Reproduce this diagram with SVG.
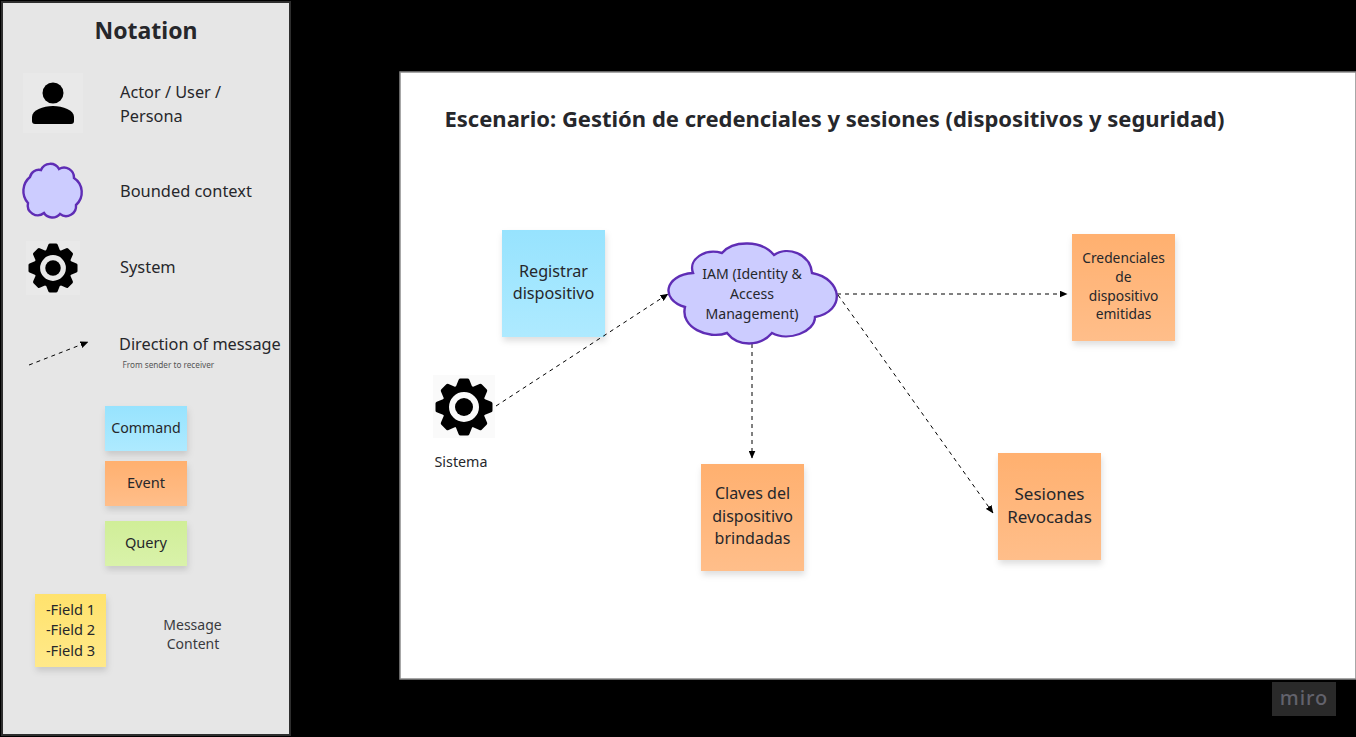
<svg xmlns="http://www.w3.org/2000/svg" width="1356" height="737" viewBox="0 0 1356 737">
<style>
text{font-family:"Noto Sans","Open Sans","Liberation Sans",sans-serif;fill:#26272b;text-anchor:middle}
.l{text-anchor:start}
.c{fill:none;stroke:#000;stroke-width:1;stroke-dasharray:4 4}
.cloud{fill:#ccccff;stroke:#5f2db5;stroke-width:2.4}
.cmd{fill:url(#gb)}.evt{fill:url(#go)}.qry{fill:url(#gg)}.fld{fill:url(#gy)}
.st{filter:url(#sh)}
</style>
<defs>
<linearGradient id="gb" x1="0" y1="0" x2="0" y2="1"><stop offset="0" stop-color="#97e3fe"/><stop offset="1" stop-color="#aeeaff"/></linearGradient>
<linearGradient id="go" x1="0" y1="0" x2="0" y2="1"><stop offset="0" stop-color="#ffb06f"/><stop offset="1" stop-color="#ffbe8a"/></linearGradient>
<linearGradient id="gg" x1="0" y1="0" x2="0" y2="1"><stop offset="0" stop-color="#d0ee98"/><stop offset="1" stop-color="#d9f2aa"/></linearGradient>
<linearGradient id="gy" x1="0" y1="0" x2="0" y2="1"><stop offset="0" stop-color="#ffe26c"/><stop offset="1" stop-color="#ffe98a"/></linearGradient>
<filter id="sh" x="-20%" y="-20%" width="140%" height="140%"><feDropShadow dx="1" dy="4" stdDeviation="3" flood-color="#000" flood-opacity="0.13"/></filter>
<marker id="a" markerWidth="8" markerHeight="7" refX="7.500" refY="3.500" orient="auto" markerUnits="userSpaceOnUse"><path d="M0 0L8 3.500L0 7Z" fill="#000"/></marker>
<path id="tooth" d="M-6.500-19L-3.500-26.500H3.500L6.500-19Z" fill="#000" stroke="#000" stroke-width="4" stroke-linejoin="round"/>
<g id="gear">
<use href="#tooth"/><use href="#tooth" transform="rotate(45)"/><use href="#tooth" transform="rotate(90)"/><use href="#tooth" transform="rotate(135)"/><use href="#tooth" transform="rotate(180)"/><use href="#tooth" transform="rotate(225)"/><use href="#tooth" transform="rotate(270)"/><use href="#tooth" transform="rotate(315)"/>
<circle r="18.500" fill="none" stroke="#000" stroke-width="7"/><circle r="9" fill="#000"/>
</g>
</defs>
<rect width="1356" height="737" fill="#000"/>
<g id="notation-panel">
<rect x="2" y="2" width="288" height="733" fill="#e6e6e6" stroke="#2e2e2e" stroke-width="2"/>
<text x="146" y="39" font-size="23" font-weight="700">Notation</text>
</g>
<g id="legend-actor">
<rect x="23" y="73" width="60" height="60" fill="#e9e9e9"/>
<circle cx="53" cy="93" r="10.500" fill="#000"/>
<path d="M32 121V117C32 110 43 106 53 106S74 110 74 117V121A3 3 0 0 1 71 124H35A3 3 0 0 1 32 121Z" fill="#000"/>
<text class="l" x="120" y="98" font-size="16.300">Actor / User /</text>
<text class="l" x="120" y="122" font-size="16.300">Persona</text>
</g>
<g id="legend-context">
<path class="cloud" d="M41 170A10 10 0 0 1 59 169A10 10 0 0 1 74 178A17 17 0 0 1 76 205A10 10 0 0 1 60 214A10 10 0 0 1 44 213A10 10 0 0 1 28 203A18 18 0 0 1 30 177A9 9 0 0 1 41 170Z"/>
<text class="l" x="120" y="197" font-size="16.400">Bounded context</text>
</g>
<g id="legend-system">
<rect x="26" y="241" width="54" height="54" fill="#e9e9e9"/>
<use href="#gear" transform="translate(53 268) scale(.86)"/>
<text class="l" x="120" y="273" font-size="16.400">System</text>
</g>
<g id="legend-arrow">
<line class="c" x1="29" y1="365" x2="88" y2="342" stroke-dasharray="5 5" marker-end="url(#a)"/>
<text class="l" x="119" y="350" font-size="16.300">Direction of message</text>
<text class="l" x="122.500" y="368" font-size="8.200" style="fill:#555">From sender to receiver</text>
</g>
<g id="legend-command"><rect class="cmd st" x="105" y="406" width="82" height="45"/><text x="146" y="433" font-size="14.200">Command</text></g>
<g id="legend-event"><rect class="evt st" x="105" y="461" width="82" height="45"/><text x="146" y="488" font-size="14.600">Event</text></g>
<g id="legend-query"><rect class="qry st" x="105" y="521" width="82" height="45"/><text x="146" y="548" font-size="14.600">Query</text></g>
<g id="legend-fields"><rect class="fld st" x="35" y="594" width="71" height="73"/>
<text x="70.500" y="615" font-size="14.600">-Field 1</text><text x="70.500" y="635" font-size="14.600">-Field 2</text><text x="70.500" y="656" font-size="14.600">-Field 3</text></g>
<g id="legend-content"><text x="192.500" y="630" font-size="14" style="fill:#3a3a3e">Message</text><text x="193" y="649" font-size="14" style="fill:#3a3a3e">Content</text></g>
<g id="frame">
<rect x="400" y="72" width="956" height="607" fill="#fff" stroke="#8a8a8a" stroke-width="1.500"/>
<text class="l" x="444.500" y="127" font-size="22" font-weight="700">Escenario: Gestión de credenciales y sesiones (dispositivos y seguridad)</text>
</g>
<g id="registrar"><rect class="cmd st" x="502" y="230" width="103" height="107"/><text x="553.500" y="277" font-size="16.200">Registrar</text><text x="553.500" y="299" font-size="16.200">dispositivo</text></g>
<g id="connectors">
<line class="c" x1="496" y1="406" x2="668" y2="294" marker-end="url(#a)"/>
<line class="c" x1="752" y1="344" x2="752" y2="458" marker-end="url(#a)"/>
<line class="c" x1="837" y1="294" x2="1067" y2="294" marker-end="url(#a)"/>
<line class="c" x1="838" y1="295" x2="993" y2="513" marker-end="url(#a)"/>
</g>
<g id="iam">
<path class="cloud" d="M693 273C688 259 705 248 722 253C733 240 762 240 774 255C787 246 810 253 812 273C843 279 846 311 815 317C815 332 788 342 772 333C760 347 738 347 727 333C708 340 680 327 685 307C660 300 664 275 693 273Z"/>
<text x="752" y="279" font-size="14.100">IAM (Identity &amp;</text><text x="752" y="299" font-size="14.100">Access</text><text x="752" y="319" font-size="14.100">Management)</text>
</g>
<g id="sistema">
<rect x="433" y="375" width="62" height="63" fill="#fafafa"/>
<use href="#gear" transform="translate(464 407)"/>
<text x="461" y="467" font-size="14.300">Sistema</text>
</g>
<g id="credenciales"><rect class="evt st" x="1072" y="234" width="103" height="107"/>
<text x="1123.500" y="263" font-size="13.800">Credenciales</text><text x="1123.500" y="282" font-size="13.800">de</text><text x="1123.500" y="301" font-size="13.800">dispositivo</text><text x="1123.500" y="319" font-size="13.800">emitidas</text></g>
<g id="claves"><rect class="evt st" x="701" y="464" width="103" height="107"/>
<text x="752.500" y="499" font-size="16">Claves del</text><text x="752.500" y="522" font-size="16">dispositivo</text><text x="752.500" y="544" font-size="16">brindadas</text></g>
<g id="sesiones"><rect class="evt st" x="998" y="453" width="103" height="107"/>
<text x="1049.500" y="500" font-size="17">Sesiones</text><text x="1049.500" y="523" font-size="17">Revocadas</text></g>
<g id="miro-badge"><rect x="1272" y="682" width="64" height="34" fill="#2a2a2a"/><text x="1304" y="705" font-size="20" font-weight="500" style="fill:#62626c;letter-spacing:1px">miro</text></g>
</svg>
